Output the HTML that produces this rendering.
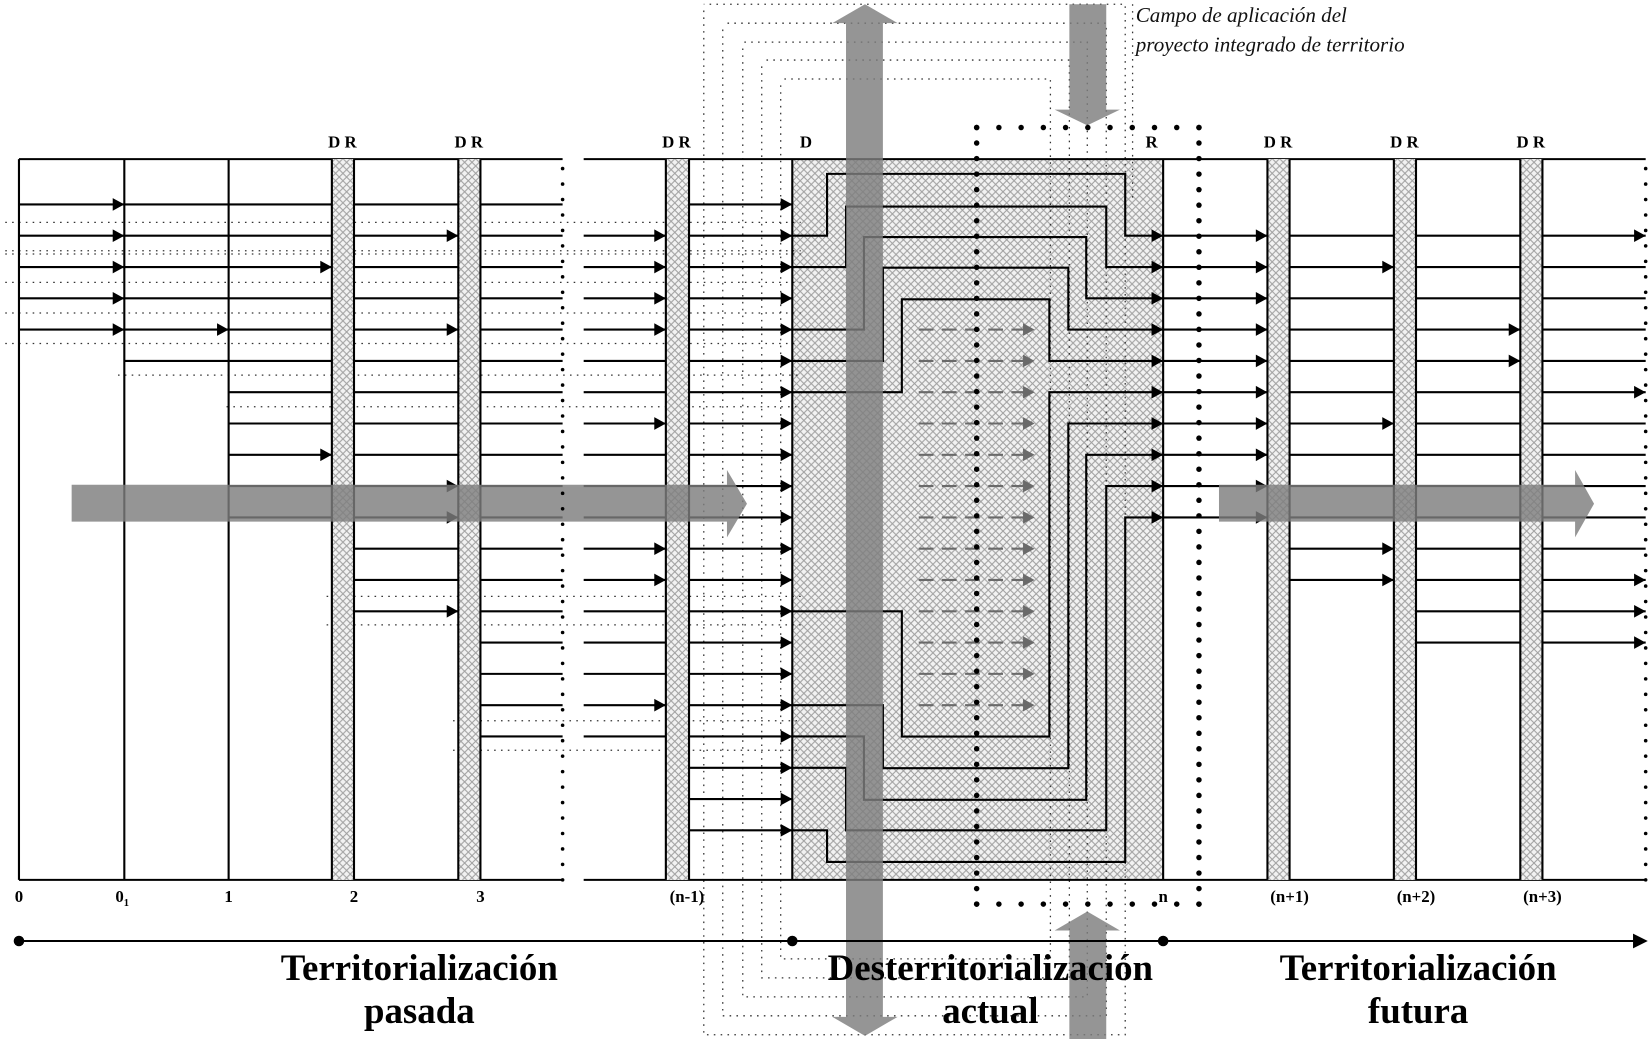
<!DOCTYPE html>
<html><head><meta charset="utf-8"><style>
html,body{margin:0;padding:0;background:#fff;}
svg{display:block;}
.b{font-family:"Liberation Serif",serif;font-weight:bold;font-size:16px;fill:#000;}
.big{font-family:"Liberation Serif",serif;font-weight:bold;font-size:35px;fill:#000;}
.it{font-family:"Liberation Serif",serif;font-style:italic;font-size:20px;fill:#111;}
</style></head><body>
<svg id="s" width="1652" height="1039" viewBox="0 0 1568 986" preserveAspectRatio="none" xmlns="http://www.w3.org/2000/svg">
<defs>
<pattern id="h" width="7" height="7" patternUnits="userSpaceOnUse">
<rect width="7" height="7" fill="#f2f2f2"/>
<path d="M0,0L7,7M7,0L0,7" stroke="#a0a0a0" stroke-width="1"/>
</pattern>
</defs>
<g id="under"></g>
<g id="lines"></g>
<g id="bands"></g>
<g id="gray"></g>
<g id="top"></g>
<text class="b" x="325" y="140" text-anchor="middle">D R</text>
<text class="b" x="445" y="140" text-anchor="middle">D R</text>
<text class="b" x="642" y="140" text-anchor="middle">D R</text>
<text class="b" x="765" y="140" text-anchor="middle">D</text>
<text class="b" x="1093" y="140" text-anchor="middle">R</text>
<text class="b" x="1213" y="140" text-anchor="middle">D R</text>
<text class="b" x="1333" y="140" text-anchor="middle">D R</text>
<text class="b" x="1453" y="140" text-anchor="middle">D R</text>
<text class="b" x="18" y="856" text-anchor="middle">0</text>
<text class="b" x="116" y="856" text-anchor="middle">0<tspan font-size="10" dy="4">1</tspan></text>
<text class="b" x="217" y="856" text-anchor="middle">1</text>
<text class="b" x="336" y="856" text-anchor="middle">2</text>
<text class="b" x="456" y="856" text-anchor="middle">3</text>
<text class="b" x="652" y="856" text-anchor="middle">(n-1)</text>
<text class="b" x="1104" y="856" text-anchor="middle">n</text>
<text class="b" x="1224" y="856" text-anchor="middle">(n+1)</text>
<text class="b" x="1344" y="856" text-anchor="middle">(n+2)</text>
<text class="b" x="1464" y="856" text-anchor="middle">(n+3)</text>
<text class="big" x="398" y="930" text-anchor="middle">Territorialización</text>
<text class="big" x="398" y="971" text-anchor="middle">pasada</text>
<text class="big" x="940" y="930" text-anchor="middle">Desterritorialización</text>
<text class="big" x="940" y="971" text-anchor="middle">actual</text>
<text class="big" x="1346" y="930" text-anchor="middle">Territorialización</text>
<text class="big" x="1346" y="971" text-anchor="middle">futura</text>
<text class="it" x="1078" y="21">Campo de aplicación del</text>
<text class="it" x="1078" y="49">proyecto integrado de territorio</text>
</svg>
<script>
var NS="http://www.w3.org/2000/svg";
function el(g,t,a){var e=document.createElementNS(NS,t);for(var k in a)e.setAttribute(k,a[k]);document.getElementById(g).appendChild(e);return e;}
function Y(k){return 194+29.7*k;}
function L(g,x1,y1,x2,y2,c,w,d){var a={x1:x1,y1:y1,x2:x2,y2:y2,stroke:c||"#000","stroke-width":w||2};if(d)a["stroke-dasharray"]=d;return el(g,"line",a);}
function A(g,x,y,c){el(g,"polygon",{points:(x-11)+","+(y-6)+" "+x+","+y+" "+(x-11)+","+(y+6),fill:c||"#000"});}
function P(g,pts,c,w,d){var a={points:pts.join(" "),fill:"none",stroke:c||"#000","stroke-width":w||2};if(d)a["stroke-dasharray"]=d;el(g,"polyline",a);}
function dots(g,x1,y1,x2,y2,r,gap){var dx=x2-x1,dy=y2-y1,len=Math.hypot(dx,dy),n=Math.round(len/gap);for(var i=0;i<=n;i++)el(g,"circle",{cx:x1+dx*i/n,cy:y1+dy*i/n,r:r,fill:"#000"});}
el("under","rect",{x:752,y:151,width:352,height:684,fill:"url(#h)"});
var dd="1.5,5";
[211,238,241,268,297,326].forEach(function(y){P("under",[[5,y],[760,y]],"#333",1.2,dd);});
[356,386].forEach(function(y,i){P("under",[[i?215:112,y],[760,y]],"#333",1.2,dd);});
[566,593,684,712].forEach(function(y,i){P("under",[[i<2?310:430,y],[760,y]],"#333",1.2,dd);});
var fl=[668,686,705,723,741],fr=[1068,1050,1032,1015,997],ft=[4,22,40,57,75],fb=[982,964,946,928,910];
for(var i=0;i<5;i++){P("under",[[fl[i],ft[i]+6],[fl[i],fb[i]],[fr[i],fb[i]],[fr[i],ft[i]],[fl[i],ft[i]]],"#333",1.2,dd);}
P("under",[[1075,4],[1075,190]],"#333",1.2,dd);
L("lines",18,151,534,151);L("lines",18,835,534,835);
L("lines",554,151,1562,151);L("lines",554,835,1562,835);
L("lines",18,151,18,835);L("lines",118,151,118,835);L("lines",217,151,217,835);
L("lines",752,151,752,835);L("lines",1104,151,1104,835);
var left=[[18,[118]],[18,[118,435]],[18,[118,315]],[18,[118]],[18,[118,217,435]],[118,[]],[217,[]],[217,[]],[217,[315]],[217,[435]],[217,[435]],[336,[]],[336,[]],[336,[435]],[456,[]],[456,[]],[456,[]],[456,[]]];
left.forEach(function(r,k){var y=Y(k);L("lines",r[0],y,534,y);r[1].forEach(function(x){A("lines",x,y);});});
var a632=[1,2,3,4,7,11,12,16];
for(var k=0;k<=20;k++){var y=Y(k);var s=(k==0||k>=18)?654:554;L("lines",s,y,752,y);A("lines",752,y);if(a632.indexOf(k)>=0)A("lines",632,y);}
var up=[[1,785,165,1068,1],[2,803,196,1050,2],[4,820,225,1031,3],[5,838,254,1014,4],[6,856,284,996,5]];
up.forEach(function(u){P("lines",[[752,Y(u[0])],[u[1],Y(u[0])],[u[1],u[2]],[u[3],u[2]],[u[3],Y(u[4])],[1104,Y(u[4])]]);A("lines",1104,Y(u[4]));});
var dn=[[6,996,699,856,13],[7,1014,729,838,16],[8,1031,759,820,17],[9,1050,788,803,18],[10,1068,818,785,20]];
dn.forEach(function(u){P("lines",[[1104,Y(u[0])],[u[1],Y(u[0])],[u[1],u[2]],[u[3],u[2]],[u[3],Y(u[4])],[752,Y(u[4])]]);A("lines",1104,Y(u[0]));});
for(var k=4;k<=16;k++){var y=Y(k);L("lines",872,y,972,y,"#6a6a6a",2,"14,8");A("lines",982,y,"#6a6a6a");}
for(var k=1;k<=10;k++){L("lines",1104,Y(k),1203,Y(k));A("lines",1203,Y(k));}
var a1323=[2,7,11,12],a1443=[4,5],a1562=[1,6,12,13,14];
for(var k=1;k<=12;k++){L("lines",1224,Y(k),1323,Y(k));if(a1323.indexOf(k)>=0)A("lines",1323,Y(k));}
for(var k=1;k<=14;k++){L("lines",1344,Y(k),1443,Y(k));if(a1443.indexOf(k)>=0)A("lines",1443,Y(k));L("lines",1464,Y(k),1562,Y(k));if(a1562.indexOf(k)>=0)A("lines",1562,Y(k));}
[[315,336],[435,456],[632,654],[1203,1224],[1323,1344],[1443,1464]].forEach(function(b){
el("bands","rect",{x:b[0],y:151,width:b[1]-b[0],height:684,fill:"#fff"});
el("bands","rect",{x:b[0],y:151,width:b[1]-b[0],height:684,fill:"url(#h)"});
L("bands",b[0],151,b[0],835);L("bands",b[1],151,b[1],835);});
var gc="#7e7e7e",op=0.82;
el("gray","polygon",{points:"68,460 690,460 690,446 709,478 690,510 690,495 68,495",fill:gc,"fill-opacity":op});
el("gray","polygon",{points:"1157,460 1495,460 1495,446 1513,478 1495,510 1495,495 1157,495",fill:gc,"fill-opacity":op});
el("gray","polygon",{points:"821,4 852,22 838,22 838,965 852,965 821,983 790,965 803,965 803,22 790,22",fill:gc,"fill-opacity":op});
el("gray","polygon",{points:"1015,4 1050,4 1050,104 1063,104 1032,119 1001,104 1015,104",fill:gc,"fill-opacity":op});
el("gray","polygon",{points:"1032,865 1063,883 1050,883 1050,986 1015,986 1015,883 1001,883",fill:gc,"fill-opacity":op});
dots("top",534,160,534,835,1.7,14.8);dots("top",1562,160,1562,835,1.7,14.8);
dots("top",927,121,1138,121,2.6,21);dots("top",927,858,1138,858,2.6,21);
dots("top",927,121,927,858,2.6,14.8);dots("top",1138,121,1138,858,2.6,14.8);
L("top",18,893,1552,893);el("top","polygon",{points:"1550,886 1564,893 1550,900",fill:"#000"});
[18,752,1104].forEach(function(x){el("top","circle",{cx:x,cy:893,r:5,fill:"#000"});});
</script>
</body></html>
